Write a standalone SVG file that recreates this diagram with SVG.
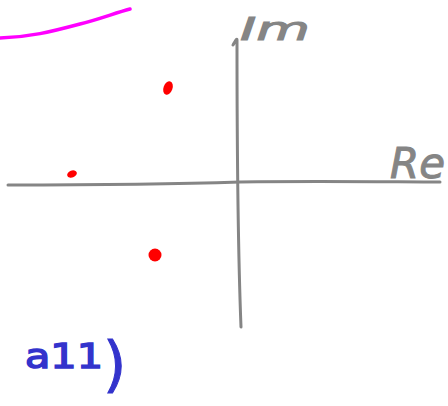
<svg xmlns="http://www.w3.org/2000/svg" width="448" height="406" viewBox="0 0 448 406">
<style>
.ax{fill:none;stroke:#858585;stroke-width:3;stroke-linecap:round;stroke-linejoin:round}
.lbl{font-family:"DejaVu Sans",sans-serif;font-style:oblique;fill:#858585}
.dot{fill:#ff0000}
.blue{font-family:"DejaVu Sans",sans-serif;fill:#3333cc}
</style>
<rect width="448" height="406" fill="#ffffff"/>
<g id="connectors">
<path class="ax" d="M8,185 C80,185 180,184 240,182 C320,181 400,182 440,182"/>
<path class="ax" d="M233,45 C236,40 237,38 237,40 C237,120 238,250 241,327"/>
<path d="M0,38 C30,37 50,32 80,24 C100,19 115,13 130,9" fill="none" stroke="#ff00ff" stroke-width="3.5" stroke-linecap="round"/>
</g>
<g id="im"><text class="lbl" x="240" y="40" font-size="32" textLength="70" lengthAdjust="spacingAndGlyphs" stroke="#858585" stroke-width="1">Im</text></g>
<g id="re"><text class="lbl" x="390" y="178" font-size="42" textLength="55" lengthAdjust="spacingAndGlyphs" stroke="#858585" stroke-width="1">Re</text></g>
<g id="p1"><ellipse class="dot" cx="168" cy="88" rx="4.5" ry="7" transform="rotate(20 168 88)"/></g>
<g id="p2"><ellipse class="dot" cx="72" cy="174" rx="5" ry="3.5" transform="rotate(-20 72 174)"/></g>
<g id="p3"><circle class="dot" cx="155" cy="255" r="6.5"/></g>
<g id="label"><text class="blue" x="25" y="368" font-size="34" textLength="78" lengthAdjust="spacingAndGlyphs" stroke="#3333cc" stroke-width="1.5">a11</text>
<text class="blue" x="103" y="385" font-size="60" stroke="#3333cc" stroke-width="1">)</text></g>
</svg>
